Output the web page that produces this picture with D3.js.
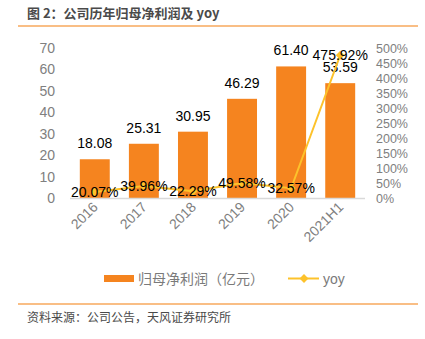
<!DOCTYPE html>
<html><head><meta charset="utf-8">
<script src="https://cdn.jsdelivr.net/npm/d3@7"></script>
<style>
body{margin:0;background:#fff;}
svg{display:block;font-family:"Liberation Sans",Arial,"Noto Sans CJK SC",sans-serif;}
</style></head>
<body>
<svg id="c" width="425" height="339"></svg>
<script>
const categories = ["2016","2017","2018","2019","2020","2021H1"];
const profit = [18.08,25.31,30.95,46.29,61.40,53.59];
const yoy = [20.07,39.96,22.29,49.58,32.57,475.92];
const leftTicks = [0,10,20,30,40,50,60,70];
const rightTicks = [0,50,100,150,200,250,300,350,400,450,500];
const title = "图 2：公司历年归母净利润及 yoy";
const source = "资料来源：公司公告，天风证券研究所";
const legendLabels = ["归母净利润（亿元）","yoy"];

const svg = d3.select("#c");
const cjk = '"Noto Sans CJK SC","Liberation Sans",sans-serif';
const barColor = "#F5841F", lineColor = "#FDC22B", axisText = "#808080";

// title
svg.append("text").attr("x",27).attr("y",18).attr("font-family",cjk).attr("font-size",13)
  .attr("font-weight","bold").attr("fill","#4a4a4a").text(title);
svg.append("line").attr("x1",18).attr("x2",418).attr("y1",26).attr("y2",26)
  .attr("stroke","#F7A95C").attr("stroke-width",1.5);

const x = d3.scaleBand().domain(categories).range([70,365]).paddingInner(0.39).paddingOuter(0.2);
const yL = d3.scaleLinear().domain([0,70]).range([198,48]);
const yR = d3.scaleLinear().domain([0,500]).range([198,48]);

// left axis
const gl = svg.append("g").attr("transform","translate(55,0)")
  .call(d3.axisLeft(yL).tickValues(leftTicks).tickSize(0).tickPadding(0));
gl.select(".domain").remove();
gl.selectAll("text").attr("font-size",14).attr("fill",axisText).attr("font-family","Liberation Sans, Arial");

// right axis
const gr = svg.append("g").attr("transform","translate(376,0)")
  .call(d3.axisRight(yR).tickValues(rightTicks).tickSize(0).tickPadding(0).tickFormat(d=>d+"%"));
gr.select(".domain").remove();
gr.selectAll("text").attr("font-size",12.5).attr("fill",axisText).attr("font-family","Liberation Sans, Arial");

// bars
svg.selectAll("rect.bar").data(categories).join("rect").attr("class","bar")
  .attr("x",d=>x(d)).attr("width",x.bandwidth())
  .attr("y",(d,i)=>yL(profit[i])).attr("height",(d,i)=>yL(0)-yL(profit[i]))
  .attr("fill",barColor);

// baseline
svg.append("line").attr("x1",70).attr("x2",365).attr("y1",198.5).attr("y2",198.5)
  .attr("stroke","#d9d9d9").attr("stroke-width",1.5);

// x labels
const cx = d => x(d)+x.bandwidth()/2;
svg.selectAll("text.xl").data(categories).join("text").attr("class","xl")
  .attr("transform",d=>`translate(${cx(d)+4},${208}) rotate(-45)`)
  .attr("text-anchor","end").attr("font-size",14).attr("fill",axisText).text(d=>d);

// bar value labels
svg.selectAll("text.bv").data(categories).join("text").attr("class","bv")
  .attr("x",cx).attr("y",(d,i)=>yL(profit[i])-11)
  .attr("text-anchor","middle").attr("font-size",14).attr("fill","#000")
  .text((d,i)=>profit[i].toFixed(2));

// yoy line
const line = d3.line().x((d,i)=>cx(categories[i])).y(d=>yR(d));
svg.append("path").datum(yoy).attr("d",line).attr("fill","none")
  .attr("stroke",lineColor).attr("stroke-width",2);
const diamond = d3.symbol().type(d3.symbolDiamond2).size(50);
svg.selectAll("path.mk").data(yoy).join("path").attr("class","mk")
  .attr("transform",(d,i)=>`translate(${cx(categories[i])},${yR(d)})`)
  .attr("d",diamond).attr("fill",lineColor);

// yoy labels
svg.selectAll("text.yl").data(yoy).join("text").attr("class","yl")
  .attr("x",(d,i)=>cx(categories[i])).attr("y",d=>yR(d)+5)
  .attr("text-anchor","middle").attr("font-size",14).attr("fill","#000")
  .text(d=>d.toFixed(2)+"%");

// legend
svg.append("rect").attr("x",104).attr("y",275).attr("width",30).attr("height",7).attr("fill",barColor);
svg.append("text").attr("x",138).attr("y",284).attr("font-family",cjk).attr("font-size",14)
  .attr("fill","#7a7a7a").text(legendLabels[0]);
svg.append("line").attr("x1",288).attr("x2",319).attr("y1",278.5).attr("y2",278.5)
  .attr("stroke",lineColor).attr("stroke-width",2);
svg.append("path").attr("transform","translate(304,278.5)").attr("d",diamond).attr("fill",lineColor);
svg.append("text").attr("x",323).attr("y",284).attr("font-size",14)
  .attr("fill","#7a7a7a").text(legendLabels[1]);

// footer
svg.append("line").attr("x1",18).attr("x2",418).attr("y1",304).attr("y2",304)
  .attr("stroke","#F7A95C").attr("stroke-width",1.5);
svg.append("text").attr("x",27).attr("y",322).attr("font-family",cjk).attr("font-size",12)
  .attr("fill","#4a4a4a").text(source);
</script>
</body></html>
